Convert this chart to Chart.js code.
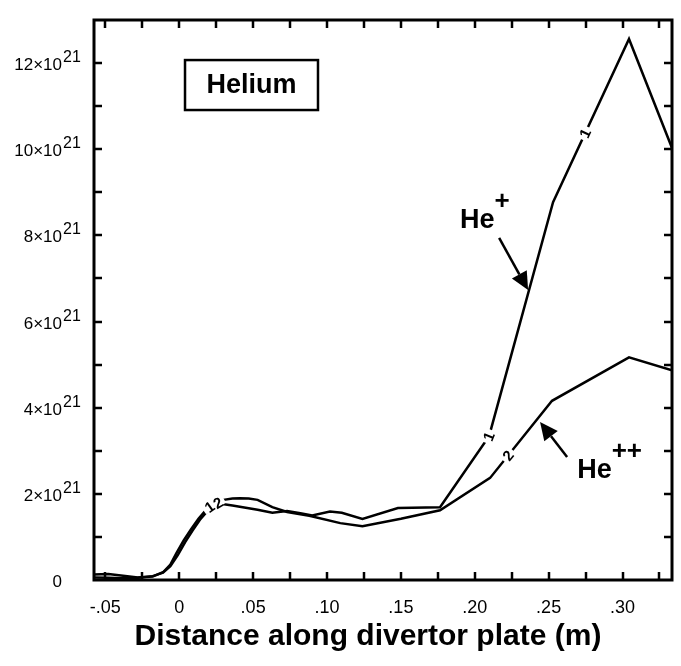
<!DOCTYPE html>
<html>
<head>
<meta charset="utf-8">
<script src="https://cdn.jsdelivr.net/npm/chart.js@4.4.0/dist/chart.umd.min.js"></script>
<style>
  html, body { margin: 0; padding: 0; background: #fff; }
  #wrap { width: 681px; height: 666px; }
</style>
</head>
<body>
<div id="wrap"><canvas id="heChart" width="681" height="666"></canvas></div>
<script>
/* === DATA (density in units of 1e21) === */
const hePlusX = [-0.0577, -0.048, -0.038, -0.028, -0.018, -0.011, -0.006, -0.002, 0.003, 0.008, 0.013, 0.018, 0.022, 0.028, 0.036, 0.043, 0.053, 0.063, 0.073, 0.082, 0.090, 0.102, 0.110, 0.124, 0.148, 0.1765, 0.2097, 0.253, 0.3044, 0.3335];
const hePlusY = [0.13, 0.14, 0.10, 0.06, 0.08, 0.18, 0.36, 0.62, 0.92, 1.18, 1.42, 1.62, 1.74, 1.77, 1.73, 1.69, 1.63, 1.56, 1.60, 1.55, 1.50, 1.59, 1.56, 1.42, 1.67, 1.69, 3.34, 8.77, 12.56, 10.03];

const hePPX = [-0.0577, -0.048, -0.038, -0.028, -0.018, -0.011, -0.006, -0.001, 0.004, 0.009, 0.014, 0.019, 0.024, 0.030, 0.036, 0.041, 0.047, 0.053, 0.063, 0.073, 0.088, 0.109, 0.124, 0.150, 0.1765, 0.2104, 0.2523, 0.3044, 0.3335];
const hePPY = [0.06, 0.05, 0.04, 0.05, 0.09, 0.17, 0.32, 0.58, 0.88, 1.15, 1.40, 1.60, 1.75, 1.86, 1.89, 1.90, 1.89, 1.86, 1.69, 1.58, 1.49, 1.32, 1.25, 1.42, 1.62, 2.37, 4.16, 5.17, 4.87];

const xTicks = [-0.05, -0.025, 0, 0.025, 0.05, 0.075, 0.10, 0.125, 0.15, 0.175, 0.20, 0.225, 0.25, 0.275, 0.30, 0.325];
const xLabelVals = [-0.05, 0, 0.05, 0.10, 0.15, 0.20, 0.25, 0.30];
const xLabels = ["-.05", "0", ".05", ".10", ".15", ".20", ".25", ".30"];
const yTicks = [1, 2, 3, 4, 5, 6, 7, 8, 9, 10, 11, 12];
const yLabelVals = [0, 2, 4, 6, 8, 10, 12];
const yLabels = ["0", "2×10", "4×10", "6×10", "8×10", "10×10", "12×10"];
const yExp = "21";

// numbers written on the curves: dataset index, x position, text
const curveMarks = [
  { ds: 0, x: 0.0205, text: "1" },
  { ds: 1, x: 0.0262, text: "2" },
  { ds: 0, x: 0.2095, text: "1" },
  { ds: 0, x: 0.2747, text: "1" },
  { ds: 1, x: 0.2226, text: "2" }
];

const FONT = '"Liberation Sans", Arial, sans-serif';

function toPts(xs, ys){ return xs.map((x, i) => ({ x: x, y: ys[i] })); }

// point on a dataset's polyline, in pixels, for a given x value
function onLine(chart, ds, xv){
  const d = chart.data.datasets[ds].data;
  const sx = chart.scales.x, sy = chart.scales.y;
  for (let i = 0; i < d.length - 1; i++){
    if (xv >= d[i].x && xv <= d[i+1].x){
      const t = (xv - d[i].x) / (d[i+1].x - d[i].x);
      return { x: sx.getPixelForValue(xv), y: sy.getPixelForValue(d[i].y + t * (d[i+1].y - d[i].y)) };
    }
  }
  return null;
}

function arrow(ctx, x1, y1, x2, y2){
  const ang = Math.atan2(y2 - y1, x2 - x1);
  const L = 18, W = 8.5;
  ctx.beginPath();
  ctx.moveTo(x1, y1);
  ctx.lineTo(x2 - Math.cos(ang) * L, y2 - Math.sin(ang) * L);
  ctx.lineWidth = 2.5;
  ctx.stroke();
  ctx.beginPath();
  ctx.moveTo(x2, y2);
  ctx.lineTo(x2 - Math.cos(ang) * L - Math.sin(ang) * W, y2 - Math.sin(ang) * L + Math.cos(ang) * W);
  ctx.lineTo(x2 - Math.cos(ang) * L + Math.sin(ang) * W, y2 - Math.sin(ang) * L - Math.cos(ang) * W);
  ctx.closePath();
  ctx.fill();
}

/* === FRAME, TICKS, LABELS === */
const framePlugin = {
  id: 'frame',
  afterDatasetsDraw(chart){
    const ctx = chart.ctx;
    const a = chart.chartArea;
    const sx = chart.scales.x, sy = chart.scales.y;
    ctx.save();
    ctx.strokeStyle = '#000';
    ctx.fillStyle = '#000';

    // numbers on the curves: first cut the gaps, then write the digits
    const marks = curveMarks.map(m => {
      const p = onLine(chart, m.ds, m.x);
      const p1 = onLine(chart, m.ds, m.x - 0.003);
      const p2 = onLine(chart, m.ds, m.x + 0.003);
      return { p: p, ang: Math.atan2(p2.y - p1.y, p2.x - p1.x), text: m.text };
    });
    marks.forEach(m => {
      ctx.save();
      ctx.translate(m.p.x, m.p.y);
      ctx.rotate(m.ang);
      ctx.fillStyle = '#fff';
      ctx.fillRect(-7, -4, 14, 8);
      ctx.restore();
    });
    marks.forEach(m => {
      ctx.save();
      ctx.translate(m.p.x, m.p.y);
      ctx.rotate(m.ang);
      ctx.fillStyle = '#000';
      ctx.font = 'bold 15px ' + FONT;
      ctx.textAlign = 'center';
      ctx.textBaseline = 'middle';
      ctx.fillText(m.text, 0, 1);
      ctx.restore();
    });

    // frame
    ctx.lineWidth = 3;
    ctx.strokeRect(a.left, a.top, a.right - a.left, a.bottom - a.top);

    // inward ticks on all sides
    ctx.lineWidth = 2.5;
    ctx.beginPath();
    xTicks.forEach(v => {
      const px = Math.round(sx.getPixelForValue(v));
      ctx.moveTo(px, a.bottom); ctx.lineTo(px, a.bottom - 8);
      ctx.moveTo(px, a.top); ctx.lineTo(px, a.top + 8);
    });
    yTicks.forEach(v => {
      const py = Math.round(sy.getPixelForValue(v));
      ctx.moveTo(a.left, py); ctx.lineTo(a.left + 8, py);
      ctx.moveTo(a.right, py); ctx.lineTo(a.right - 8, py);
    });
    ctx.stroke();

    // x tick labels
    ctx.font = '18px ' + FONT;
    ctx.textAlign = 'center';
    ctx.textBaseline = 'alphabetic';
    xLabelVals.forEach((v, i) => {
      ctx.fillText(xLabels[i], sx.getPixelForValue(v), a.bottom + 33);
    });

    // y tick labels with exponent
    yLabelVals.forEach((v, i) => {
      const py = sy.getPixelForValue(v);
      ctx.font = '17px ' + FONT;
      ctx.textAlign = 'right';
      ctx.fillText(yLabels[i], a.left - 32, py + 7);
      if (v !== 0){
        ctx.font = '16px ' + FONT;
        ctx.textAlign = 'left';
        ctx.fillText(yExp, a.left - 31, py - 1);
      }
    });

    // axis title
    ctx.font = 'bold 30px ' + FONT;
    ctx.textAlign = 'center';
    ctx.fillText('Distance along divertor plate (m)', 368, 645);

    // Helium box
    const bx1 = sx.getPixelForValue(0.0039), bx2 = sx.getPixelForValue(0.0939);
    const by1 = sy.getPixelForValue(12.07), by2 = sy.getPixelForValue(10.91);
    ctx.lineWidth = 2.5;
    ctx.strokeRect(bx1, by1, bx2 - bx1, by2 - by1);
    ctx.font = 'bold 27px ' + FONT;
    ctx.textAlign = 'center';
    ctx.textBaseline = 'middle';
    ctx.fillText('Helium', (bx1 + bx2) / 2, (by1 + by2) / 2 + 1);

    // He+ label and arrow
    ctx.textBaseline = 'alphabetic';
    ctx.textAlign = 'left';
    let tx = sx.getPixelForValue(0.190), ty = sy.getPixelForValue(8.17);
    ctx.font = 'bold 27px ' + FONT;
    ctx.fillText('He', tx, ty);
    let w = ctx.measureText('He').width;
    ctx.font = 'bold 26px ' + FONT;
    ctx.fillText('+', tx + w, ty - 19);
    arrow(ctx, sx.getPixelForValue(0.2165), sy.getPixelForValue(7.94), sx.getPixelForValue(0.2361), sy.getPixelForValue(6.73));

    // He++ label and arrow
    tx = sx.getPixelForValue(0.2693); ty = sy.getPixelForValue(2.37);
    ctx.font = 'bold 27px ' + FONT;
    ctx.fillText('He', tx, ty);
    w = ctx.measureText('He').width;
    ctx.font = 'bold 26px ' + FONT;
    ctx.fillText('++', tx + w, ty - 19);
    arrow(ctx, sx.getPixelForValue(0.2625), sy.getPixelForValue(2.855), sx.getPixelForValue(0.2442), sy.getPixelForValue(3.67));

    ctx.restore();
  }
};

const chart = new Chart(document.getElementById('heChart'), {
  type: 'line',
  data: {
    datasets: [
      { label: 'He+', data: toPts(hePlusX, hePlusY), borderColor: '#000', borderWidth: 2.5, pointRadius: 0, tension: 0, fill: false },
      { label: 'He++', data: toPts(hePPX, hePPY), borderColor: '#000', borderWidth: 2.5, pointRadius: 0, tension: 0, fill: false }
    ]
  },
  options: {
    responsive: false,
    animation: false,
    devicePixelRatio: 1,
    layout: { padding: { left: 94, top: 20, right: 9, bottom: 86 } },
    plugins: { legend: { display: false }, tooltip: { enabled: false } },
    scales: {
      x: { type: 'linear', min: -0.0577, max: 0.3335, display: false },
      y: { type: 'linear', min: 0, max: 13.0, display: false }
    }
  },
  plugins: [framePlugin]
});
</script>
</body>
</html>
